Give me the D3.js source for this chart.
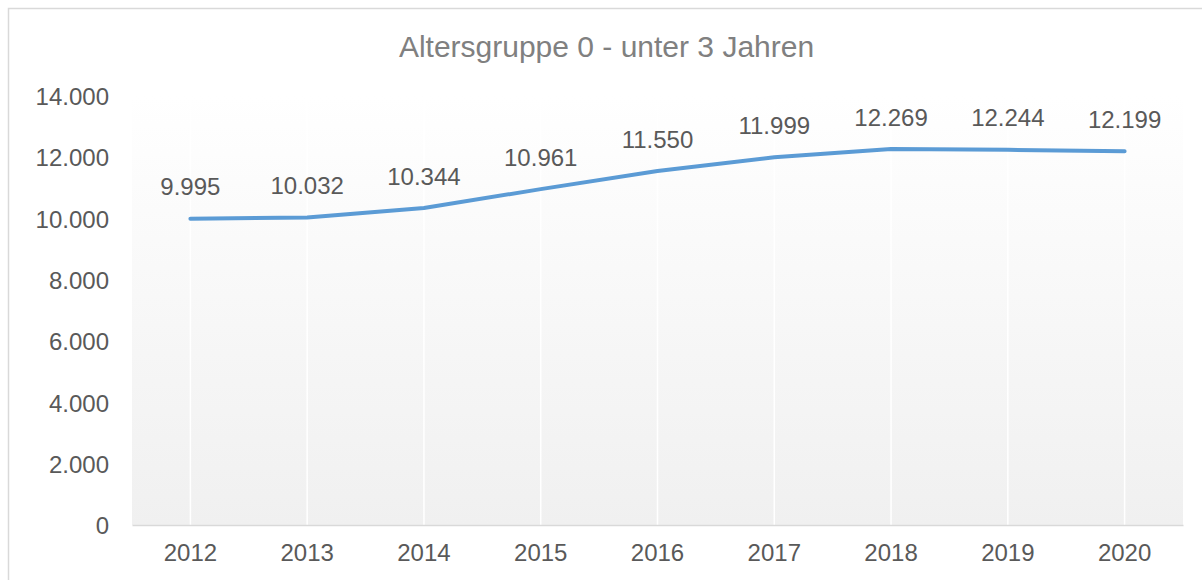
<!DOCTYPE html>
<html>
<head>
<meta charset="utf-8">
<script src="https://cdn.jsdelivr.net/npm/d3@7"></script>
<style>
  html, body { margin: 0; padding: 0; background: #fff; }
  svg { display: block; }
  text { font-family: "Liberation Sans", Arial, sans-serif; }
</style>
</head>
<body>
<script>
const title = "Altersgruppe 0 - unter 3 Jahren";
const years = ["2012", "2013", "2014", "2015", "2016", "2017", "2018", "2019", "2020"];
const values = [9995, 10032, 10344, 10961, 11550, 11999, 12269, 12244, 12199];
const yTicks = [0, 2000, 4000, 6000, 8000, 10000, 12000, 14000];

const W = 1202, H = 580;
const plot = { left: 132, right: 1183, top: 96, bottom: 525 };

const de = d3.formatLocale({ decimal: ",", thousands: ".", grouping: [3], currency: ["", " €"] });
const fmt = de.format(",d");

const svg = d3.select("body").append("svg").attr("width", W).attr("height", H);

const defs = svg.append("defs");
const grad = defs.append("linearGradient").attr("id", "bg").attr("x1", 0).attr("y1", 0).attr("x2", 0).attr("y2", 1);
grad.append("stop").attr("offset", "0%").attr("stop-color", "#ffffff");
grad.append("stop").attr("offset", "100%").attr("stop-color", "#f0f0f0");

// chart border
svg.append("rect").attr("x", 8.5).attr("y", 8.5).attr("width", W).attr("height", H)
  .attr("fill", "#fff").attr("stroke", "#d9d9d9").attr("stroke-width", 1.5);

const x = d3.scaleBand().domain(years).range([plot.left, plot.right]).padding(0);
const y = d3.scaleLinear().domain([0, 14000]).range([plot.bottom, plot.top]);

// plot background
svg.append("rect").attr("x", plot.left).attr("y", plot.top)
  .attr("width", plot.right - plot.left).attr("height", plot.bottom - plot.top)
  .attr("fill", "url(#bg)");

// vertical white gridlines at category centres
svg.append("g").selectAll("line").data(years).join("line")
  .attr("x1", d => x(d) + x.bandwidth() / 2).attr("x2", d => x(d) + x.bandwidth() / 2)
  .attr("y1", plot.top).attr("y2", plot.bottom)
  .attr("stroke", "#ffffff").attr("stroke-width", 1.5);

// x axis
const xAxis = svg.append("g").attr("transform", `translate(0,${plot.bottom})`)
  .call(d3.axisBottom(x).tickSize(0).tickPadding(0));
xAxis.select(".domain").attr("stroke", "#d9d9d9").attr("stroke-width", 1.5);
xAxis.selectAll("text").attr("font-size", 24).attr("fill", "#595959")
  .attr("dy", null).attr("y", 36);

// y axis
const yAxis = svg.append("g").attr("transform", `translate(${plot.left},0)`)
  .call(d3.axisLeft(y).tickValues(yTicks).tickFormat(fmt).tickSize(0).tickPadding(23));
yAxis.select(".domain").remove();
yAxis.selectAll("text").attr("font-size", 24).attr("fill", "#595959").attr("dy", "0.36em");

// title
svg.append("text").attr("x", 606.5).attr("y", 57).attr("text-anchor", "middle")
  .attr("font-size", 30).attr("fill", "#808080").text(title);

// line
const cx = d => x(d) + x.bandwidth() / 2;
const line = d3.line().x((d, i) => cx(years[i])).y(d => y(d));
svg.append("path").datum(values).attr("d", line)
  .attr("fill", "none").attr("stroke", "#5b9bd5").attr("stroke-width", 4)
  .attr("stroke-linejoin", "round").attr("stroke-linecap", "round");

// data labels
svg.append("g").selectAll("text").data(values).join("text")
  .attr("x", (d, i) => cx(years[i])).attr("y", d => y(d) - 23.5)
  .attr("text-anchor", "middle").attr("font-size", 24).attr("fill", "#595959")
  .text(d => fmt(d));
</script>
</body>
</html>
